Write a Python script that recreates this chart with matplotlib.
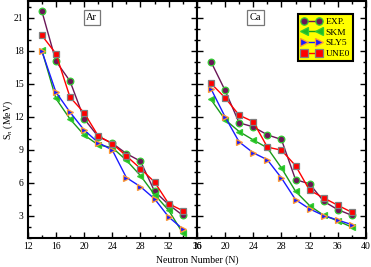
import matplotlib
matplotlib.use("Agg")
import matplotlib.pyplot as plt
from matplotlib.ticker import MultipleLocator

plt.rcParams['font.family'] = ['Liberation Serif', 'DejaVu Serif']
plt.rcParams['mathtext.fontset'] = 'stix'

# --- Ar (left panel) ---
n_ar = [14, 16, 18, 20, 22, 24, 26, 28, 30, 32, 34]
exp_ar = [21.6, 17.05, 15.24, 11.82, 10.2, 9.6, 8.66, 7.97, 5.24, 4.03, 3.06]
skm_ar = [18.05, 13.66, 11.8, 10.35, 9.45, 9.2, 8.06, 6.66, 4.94, 3.51, 1.45]
sly5_ar = [17.97, 14.24, 12.42, 10.8, 9.66, 8.98, 6.48, 5.66, 4.55, 2.91, 1.82]
une0_ar = [19.39, 17.73, 13.78, 12.36, 10.27, 9.56, 8.45, 7.3, 6.08, 4.11, 3.48]

# --- Ca (right panel) ---
n_ca = [18, 20, 22, 24, 26, 28, 30, 32, 34, 36, 38]
exp_ca = [17.0, 14.4, 11.45, 11.09, 10.36, 9.94, 6.3, 5.91, 4.33, 3.57, 3.06]
skm_ca = [13.57, 11.75, 10.66, 9.9, 9.18, 7.36, 5.24, 3.94, 3.06, 2.55, 1.98]
sly5_ca = [14.55, 12.0, 9.72, 8.73, 8.1, 6.45, 4.48, 3.64, 3.04, 2.63, 2.21]
une0_ca = [15.03, 13.73, 12.15, 11.55, 9.25, 8.97, 7.57, 5.33, 4.64, 3.97, 3.33]

labels = ["EXP.", "SKM", "SLY5", "UNE0"]
styles = [
    dict(color='#6b1657', marker='o', mfc='#6b1657', mec='#33cc33'),
    dict(color='#1a9a1a', marker='<', mfc='#22bb22', mec='#33cc33'),
    dict(color='#1a1aff', marker='>', mfc='#1a1aff', mec='#ff9933'),
    dict(color='#ff0000', marker='s', mfc='#ff0000', mec='#808080'),
]

fig = plt.figure(figsize=(3.71, 2.67), dpi=100)
left, right, bottom, top = 0.0747, 0.9865, 0.1086, 0.996
w = (right - left) / 2
ax1 = fig.add_axes([left, bottom, w, top - bottom])
ax2 = fig.add_axes([left + w, bottom, w, top - bottom], sharey=ax1)

panels = [
    (ax1, n_ar, [exp_ar, skm_ar, sly5_ar, une0_ar], (12, 36), "Ar", 21.1),
    (ax2, n_ca, [exp_ca, skm_ca, sly5_ca, une0_ca], (16, 40), "Ca", 24.3),
]

for ax, n, series, xlim, name, tx in panels:
    for vals, st, lab in zip(series, styles, labels):
        ax.plot(n, vals, lw=1.0, ms=4.8, mew=0.9, label=lab, **st)
    ax.set_xlim(*xlim)
    ax.set_ylim(1, 22.5)
    ax.xaxis.set_major_locator(MultipleLocator(4))
    ax.xaxis.set_minor_locator(MultipleLocator(2))
    ax.yaxis.set_major_locator(MultipleLocator(3))
    ax.yaxis.set_minor_locator(MultipleLocator(1))
    ax.tick_params(which='both', direction='in', top=True, right=True,
                   labelsize=7, width=1.0, pad=3)
    ax.tick_params(which='major', length=4)
    ax.tick_params(which='minor', length=2)
    for sp in ax.spines.values():
        sp.set_linewidth(1.5)
    ax.text(tx, 21, name, ha='center', va='center', fontsize=7.5,
            bbox=dict(boxstyle='square,pad=0.25', fc='white', ec='#777777', lw=0.9))

ax2.tick_params(labelleft=False)
ax1.set_ylabel("S$_n$ (MeV)", fontsize=7, va='center')
ax1.yaxis.set_label_coords(-0.118, 0.5)

leg = ax2.legend(loc='upper right', bbox_to_anchor=(0.924, 0.945), borderaxespad=0,
                 fontsize=6.8, numpoints=2, handlelength=2.2, handletextpad=0.4,
                 labelspacing=0.22, borderpad=0.35, fancybox=False, framealpha=1,
                 markerscale=1.1)
leg.get_frame().set_facecolor('#ffff00')
leg.get_frame().set_edgecolor('black')
leg.get_frame().set_linewidth(1.5)

fig.text((left + right) / 2, 0.025, "Neutron Number (N)", ha='center', va='center', fontsize=7)

fig.savefig("out.png", dpi=100)
